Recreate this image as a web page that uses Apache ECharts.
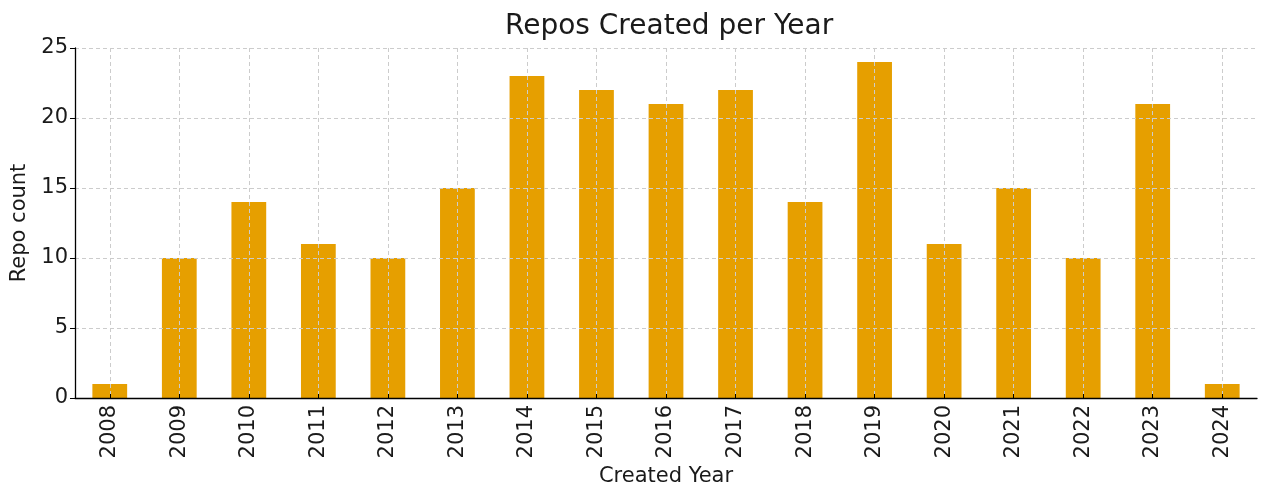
<!DOCTYPE html>
<html><head><meta charset="utf-8">
<script src="https://cdn.jsdelivr.net/npm/echarts@6/dist/echarts.min.js"></script>
<style>html,body{margin:0;padding:0;background:#fff}#c{width:1269px;height:500px}</style>
</head><body><div id="c"></div>
<script>
const years = ['2008','2009','2010','2011','2012','2013','2014','2015','2016','2017','2018','2019','2020','2021','2022','2023','2024'];
const counts = [1,10,14,11,10,15,23,22,21,22,14,24,11,15,10,21,1];
const yTicks = {min:0, max:25, interval:5};
const font = 'DejaVu Sans';
const chart = echarts.init(document.getElementById('c'));
chart.setOption({
  animation:false,
  backgroundColor:'#fff',
  title:{text:'Repos Created per Year', left:500, top:8,
    textStyle:{fontFamily:font, fontSize:28, fontWeight:'normal', color:'#1a1a1a'}},
  grid:{left:75, right:12, top:48, bottom:102},
  xAxis:{type:'category', data:years, z:5,
    name:'Created Year', nameLocation:'middle', nameGap:67,
    nameTextStyle:{fontFamily:font, fontSize:21, color:'#1a1a1a'},
    axisLine:{show:true, lineStyle:{color:'#000', width:1.3}},
    axisTick:{show:true, alignWithLabel:true, inside:true, length:4, lineStyle:{color:'#000'}},
    axisLabel:{rotate:90, fontFamily:font, fontSize:21, color:'#1a1a1a', margin:7},
    splitLine:{show:true, alignWithLabel:true, lineStyle:{color:'#cccccc', type:[4,3], width:1}}
  },
  yAxis:{type:'value', min:yTicks.min, max:yTicks.max, interval:yTicks.interval, z:5,
    name:'Repo count', nameLocation:'middle', nameGap:41,
    nameTextStyle:{fontFamily:font, fontSize:21, color:'#1a1a1a'},
    axisLine:{show:true, lineStyle:{color:'#000', width:1.3}},
    axisTick:{show:true, length:5, lineStyle:{color:'#000'}},
    axisLabel:{fontFamily:font, fontSize:21, color:'#1a1a1a', margin:7},
    splitLine:{show:true, lineStyle:{color:'#cccccc', type:[4,3], width:1}}
  },
  series:[{type:'bar', data:counts, barWidth:'50%', z:2,
    itemStyle:{color:'#E69F00'}}]
});
</script></body></html>
